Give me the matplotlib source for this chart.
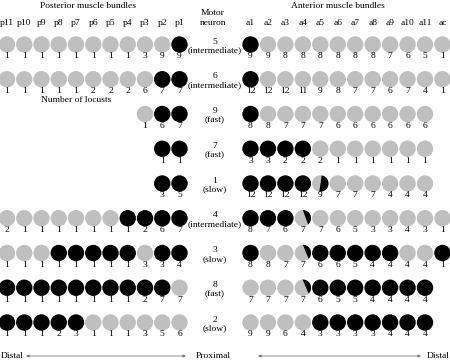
import matplotlib
matplotlib.use('Agg')
import matplotlib.pyplot as plt
import numpy as np
from matplotlib.patches import Circle, Polygon

plt.rcParams['font.family'] = ['Liberation Serif', 'DejaVu Serif']

# Data
post_labels = ['p11', 'p10', 'p9', 'p8', 'p7', 'p6', 'p5', 'p4', 'p3', 'p2', 'p1']
ant_labels = ['a1', 'a2', 'a3', 'a4', 'a5', 'a6', 'a7', 'a8', 'a9', 'a10', 'a11', 'ac']
neurons = ['5', '6', '9', '7', '1', '4', '3', '8', '2']
neuron_types = ['intermediate', 'intermediate', 'fast', 'fast', 'slow',
                'intermediate', 'slow', 'fast', 'slow']

# B = innervated (black), G = not (grey), H = partly; posterior strings end at p1
post_state = ['GGGGGGGGGGB', 'GGGGGGGGGBB', 'GBB', 'BB', 'BB',
              'GGGGGGGBBBB', 'GGGBBBBBGBB', 'BBBBBBBBBBG', 'BBBBBGGGGGG']
post_counts = [
    [1, 1, 1, 1, 1, 1, 1, 1, 3, 9, 9],
    [1, 1, 1, 1, 1, 2, 2, 2, 6, 7, 7],
    [1, 6, 7],
    [1, 1],
    [3, 5],
    [2, 1, 1, 1, 1, 1, 1, 1, 2, 6, 7],
    [1, 1, 1, 1, 1, 1, 1, 1, 3, 3, 4],
    [1, 1, 1, 1, 1, 1, 1, 1, 2, 7, 7],
    [1, 1, 1, 2, 3, 1, 1, 1, 3, 5, 6],
]
# anterior strings start at a1
ant_state = ['BGGGGGGGGGGG', 'BGGGGGGGGGGG', 'BGGGGGGGGGG', 'BBBBGGGGGGG',
             'BBBBHGGGGGG', 'BBBHGGGGGGGG', 'BGGHBBBBBGGB', 'GGGHBBBBBBB',
             'GGGGBBBBBBB']
ant_counts = [
    [9, 9, 8, 8, 8, 8, 8, 8, 7, 6, 5, 1],
    [12, 12, 12, 11, 9, 8, 7, 7, 6, 7, 4, 1],
    [8, 8, 7, 7, 7, 6, 6, 6, 6, 6, 6],
    [3, 3, 2, 2, 2, 1, 1, 1, 1, 1, 1],
    [12, 12, 12, 12, 9, 7, 7, 7, 4, 4, 4],
    [8, 7, 6, 7, 7, 6, 5, 3, 3, 4, 3, 1],
    [8, 8, 7, 7, 6, 6, 5, 4, 4, 4, 4, 1],
    [7, 7, 7, 7, 6, 5, 5, 4, 4, 4, 4],
    [9, 9, 6, 4, 3, 3, 3, 3, 4, 4, 4],
]
# chord end angles (deg) of the black part of partly filled circles
partial_angles = {4: (80, -97), 5: (90, -50), 6: (90, -45), 7: (92, -45)}

# Layout
GREY = '#bfbfbf'
R = 8.2
FS = 6.8
x0_post, dx_post = 7.0, 17.25
x0_ant, dx_ant = 250.5, 17.45
x_motor = 215
y0_row, dy_row = 44.5, 34.75

fig = plt.figure(figsize=(4.5, 3.62), dpi=100)
ax = fig.add_axes([0, 0, 1, 1])
ax.set_xlim(0, 450)
ax.set_ylim(362, 0)
ax.axis('off')


def draw_circle(x, y, state, angles=None):
    if state == 'B':
        ax.add_patch(Circle((x, y), R, color='black', lw=0))
    else:
        ax.add_patch(Circle((x, y), R, color=GREY, lw=0))
    if state == 'H':
        a1, a2 = angles
        t = np.radians(np.linspace(a2, a1, 40))
        pts = np.column_stack([x + R * np.cos(t), y - R * np.sin(t)])
        ax.add_patch(Polygon(pts, closed=True, color='black', lw=0))


for r in range(len(neurons)):
    y = y0_row + r * dy_row
    n_post = len(post_state[r])
    for k, (s, c) in enumerate(zip(post_state[r], post_counts[r])):
        col = 11 - n_post + k
        x = x0_post + col * dx_post
        draw_circle(x, y, s)
        ax.text(x, y + 11.8, str(c), ha='center', va='center', fontsize=FS)
    for k, (s, c) in enumerate(zip(ant_state[r], ant_counts[r])):
        x = x0_ant + k * dx_ant
        draw_circle(x, y, s, partial_angles.get(r))
        ax.text(x, y + 11.8, str(c), ha='center', va='center', fontsize=FS)
    ax.text(x_motor, y + 1.5, neurons[r] + '\n(' + neuron_types[r] + ')',
            ha='center', va='center', fontsize=FS, linespacing=1.15)

# headers
for k, lab in enumerate(post_labels):
    ax.text(x0_post + k * dx_post, 23, lab, ha='center', va='center', fontsize=FS)
for k, lab in enumerate(ant_labels):
    ax.text(x0_ant + k * dx_ant, 23, lab, ha='center', va='center', fontsize=FS)
ax.text(88, 6.5, 'Posterior muscle bundles', ha='center', va='center', fontsize=FS)
ax.text(338, 6.5, 'Anterior muscle bundles', ha='center', va='center', fontsize=FS)
ax.text(213, 18, 'Motor\nneuron', ha='center', va='center', fontsize=FS,
        linespacing=1.2)
ax.text(76, 100, 'Number of locusts', ha='center', va='center', fontsize=FS)

# bottom axis
ax.text(0.5, 356, 'Distal', ha='left', va='center', fontsize=FS)
ax.text(213, 356, 'Proximal', ha='center', va='center', fontsize=FS)
ax.text(449.5, 356, 'Distal', ha='right', va='center', fontsize=FS)
for xa, xb in [(26, 186), (258, 421)]:
    ax.annotate('', xy=(xa, 356), xytext=(xb, 356),
                arrowprops=dict(arrowstyle='<|-|>', color='#777777', lw=0.6,
                                mutation_scale=4, shrinkA=0, shrinkB=0))

fig.savefig('out.png', dpi=100)
